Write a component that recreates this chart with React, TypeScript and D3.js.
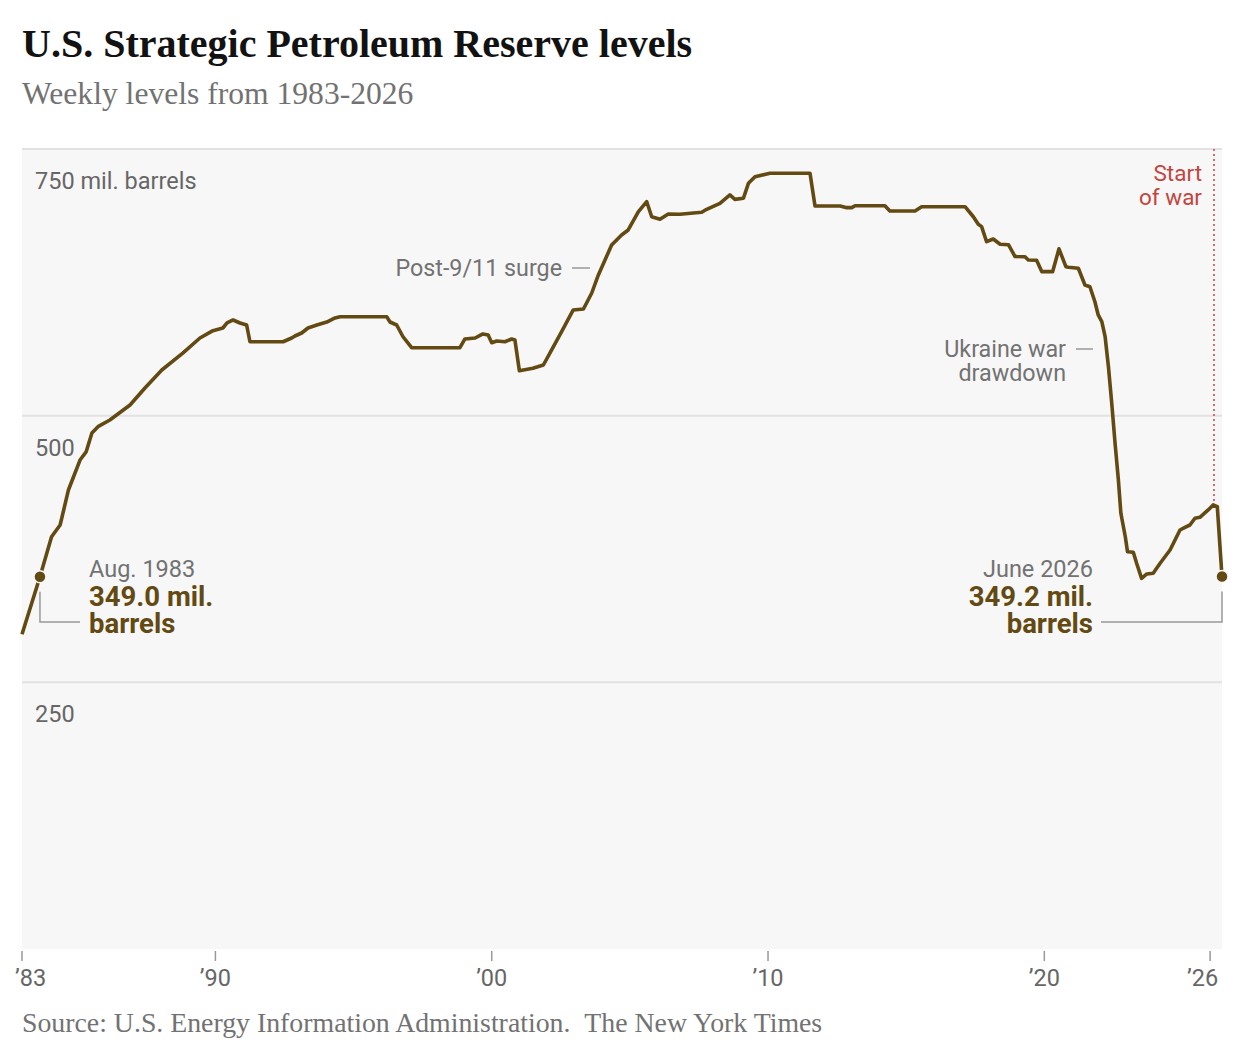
import * as d3 from 'd3';

// weekly SPR level (decimal year, million barrels)
const years = [
  1983.0, 1983.65, 1984.07, 1984.38, 1984.68, 1985.1, 1985.32, 1985.53, 1985.75, 1986.18,
  1986.91, 1987.45, 1988.06, 1988.83, 1989.44, 1989.91, 1990.27, 1990.42, 1990.64, 1990.89,
  1991.13, 1991.25, 1992.45, 1992.76, 1992.88, 1993.12, 1993.35, 1993.67, 1994.03, 1994.33,
  1994.51, 1996.2, 1996.32, 1996.56, 1996.79, 1997.1, 1998.85, 1999.03, 1999.4, 1999.68,
  1999.87, 2000.0, 2000.18, 2000.48, 2000.72, 2000.84, 2001.0, 2001.49, 2001.87, 2002.11,
  2002.53, 2002.95, 2003.32, 2003.62, 2003.86, 2004.34, 2004.7, 2004.94, 2005.31, 2005.61,
  2005.79, 2006.09, 2006.39, 2006.81, 2007.6, 2007.78, 2008.26, 2008.62, 2008.8, 2009.11,
  2009.29, 2009.53, 2010.07, 2011.52, 2011.7, 2012.61, 2012.85, 2013.03, 2013.15, 2014.23,
  2014.41, 2015.32, 2015.56, 2017.13, 2017.43, 2017.61, 2017.73, 2017.91, 2018.15, 2018.4,
  2018.7, 2018.94, 2019.3, 2019.42, 2019.72, 2019.91, 2020.3, 2020.53, 2020.78, 2020.87,
  2021.23, 2021.47, 2021.65, 2021.83, 2021.95, 2022.08, 2022.2, 2022.32, 2022.44, 2022.56,
  2022.68, 2022.77, 2022.93, 2023.01, 2023.22, 2023.34, 2023.52, 2023.71, 2023.94, 2024.19,
  2024.55, 2024.91, 2025.09, 2025.27, 2025.45, 2025.63, 2025.93, 2026.11, 2026.26, 2026.43,
];
const levels = [
  295, 349.0, 386.5, 397.5, 430.3, 458.4, 466, 483.8, 489.7, 495.9,
  510, 525.9, 542.8, 558.8, 572.8, 579.7, 582.2, 586.9, 589.7, 586.9,
  585, 569.3, 569.3, 572.8, 574.7, 577.5, 582.2, 585, 587.8, 591.6,
  592.8, 592.8, 587.8, 585, 574, 563.7, 563.7, 571.9, 572.8, 576.6,
  575.6, 568.4, 570, 569.3, 571.9, 570.9, 542.2, 544.4, 547.5, 558.8,
  578.7, 599.1, 600, 615, 631.9, 660, 669.4, 674.1, 691.2, 700.6,
  686.5, 684.1, 689.1, 688.8, 690.7, 693.5, 699.1, 706.9, 702.8, 703.8,
  717.8, 724, 727.2, 727.2, 696.6, 696.6, 695, 695, 696.8, 696.8,
  691.9, 691.9, 695.9, 695.9, 686.5, 679.4, 677.2, 663.1, 665.6, 660.7,
  660.3, 649.2, 649, 645.9, 645.7, 635, 635, 656.4, 639.7, 639.1,
  638.2, 622.5, 620.9, 606.8, 594.4, 588.1, 574, 545.9, 511.6, 474.1,
  439.7, 408.5, 386.5, 372.5, 371.9, 361.6, 347.5, 351.6, 352.2, 361.6,
  374.1, 392.8, 395.3, 397.5, 403.8, 404.7, 411.6, 416.3, 414.7, 349.2,
];

const yTicks = [250, 500, 750];
const yTickLabels = ['250', '500', '750 mil. barrels'];
const xTicks = [1983, 1990, 2000, 2010, 2020, 2026];
const xTickLabels = ['’83', '’90', '’00', '’10', '’20', '’26'];

const warYear = 2026.14;
const startIndex = 1; // Aug. 1983
const startLabel = ['Aug. 1983', '349.0 mil.', 'barrels'];
const endLabel = ['June 2026', '349.2 mil.', 'barrels'];

const SANS = 'Roboto, "Liberation Sans", sans-serif';
const SERIF = '"Liberation Serif", serif';
const BROWN = '#634912';
const GRAY = '#727272';

export default function App() {
  const left = 22;
  const right = 1222;
  const top = 149;
  const bottom = 949;

  const x = d3.scaleLinear().domain([1983, 2026.43]).range([left, right]);
  const y = d3.scaleLinear().domain([0, 750]).range([bottom, top]);

  const points = years.map((yr, i) => [yr, levels[i]] as [number, number]);
  const line = d3
    .line<[number, number]>()
    .x((d) => x(d[0]))
    .y((d) => y(d[1]));

  // level where the war line meets the series
  const bi = d3.bisectLeft(years, warYear);
  const t = (warYear - years[bi - 1]) / (years[bi] - years[bi - 1]);
  const warLevel = levels[bi - 1] + t * (levels[bi] - levels[bi - 1]);

  const last = years.length - 1;
  const sx = x(years[startIndex]);
  const sy = y(levels[startIndex]);
  const ex = x(years[last]);
  const ey = y(levels[last]);

  return (
    <svg
      width={1237}
      height={1056}
      style={{ position: 'absolute', left: 0, top: 0, background: '#fff' }}
    >
      <text x={22} y={57} fontFamily={SERIF} fontWeight={700} fontSize={40} fill="#121212">
        U.S. Strategic Petroleum Reserve levels
      </text>
      <text x={22} y={104} fontFamily={SERIF} fontSize={31.6} fill={GRAY}>
        Weekly levels from 1983-2026
      </text>

      <rect x={left} y={top} width={right - left} height={bottom - top} fill="#f7f7f7" />
      {yTicks.map((v, i) => (
        <g key={v}>
          <line x1={left} x2={right} y1={y(v)} y2={y(v)} stroke="#e2e2e2" strokeWidth={2} />
          <text x={35} y={y(v) + 40} fontFamily={SANS} fontSize={23.5} fill="#666">
            {yTickLabels[i]}
          </text>
        </g>
      ))}

      {xTicks.map((v, i) => {
        const first = i === 0;
        const lastTick = i === xTicks.length - 1;
        return (
          <g key={v}>
            <line x1={x(v)} x2={x(v)} y1={951} y2={961} stroke="#999" strokeWidth={1.5} />
            <text
              x={first ? x(v) - 7 : lastTick ? x(v) + 8 : x(v)}
              y={986}
              textAnchor={first ? 'start' : lastTick ? 'end' : 'middle'}
              fontFamily={SANS}
              fontSize={23.5}
              fill="#666"
            >
              {xTickLabels[i]}
            </text>
          </g>
        );
      })}

      {/* start of war marker */}
      <line
        x1={x(warYear)}
        x2={x(warYear)}
        y1={top}
        y2={y(warLevel)}
        stroke="#c4443f"
        strokeWidth={1.5}
        strokeDasharray="2,3"
      />
      <text x={1202} y={181} textAnchor="end" fontFamily={SANS} fontSize={22.5} fill="#c4443f">
        Start
      </text>
      <text x={1202} y={205} textAnchor="end" fontFamily={SANS} fontSize={22.5} fill="#c4443f">
        of war
      </text>

      <path d={line(points) ?? ''} fill="none" stroke={BROWN} strokeWidth={3.6} strokeLinejoin="round" />

      {/* annotations */}
      <g fontFamily={SANS} fontSize={23.3} fill={GRAY}>
        <text x={562} y={276} textAnchor="end">Post-9/11 surge</text>
        <line x1={572} x2={590} y1={268} y2={268} stroke="#999" strokeWidth={1.5} />
        <text x={1066} y={357} textAnchor="end">Ukraine war</text>
        <line x1={1076} x2={1093} y1={349} y2={349} stroke="#999" strokeWidth={1.5} />
        <text x={1066} y={381} textAnchor="end">drawdown</text>
      </g>

      {/* first and last values */}
      <path d={`M${sx},${sy + 15}V622H80`} fill="none" stroke="#999" strokeWidth={1.5} />
      <path d={`M1101,622H${ex}V${ey + 15}`} fill="none" stroke="#999" strokeWidth={1.5} />
      <circle cx={sx} cy={sy} r={6} fill={BROWN} stroke="#f7f7f7" strokeWidth={1.5} />
      <circle cx={ex} cy={ey} r={6} fill={BROWN} stroke="#f7f7f7" strokeWidth={1.5} />

      <g fontFamily={SANS}>
        <text x={89} y={577} fontSize={23.5} fill={GRAY}>{startLabel[0]}</text>
        <text x={89} y={606} fontSize={27.5} fontWeight={700} fill={BROWN}>{startLabel[1]}</text>
        <text x={89} y={633} fontSize={27.5} fontWeight={700} fill={BROWN}>{startLabel[2]}</text>
        <text x={1093} y={577} textAnchor="end" fontSize={23.5} fill={GRAY}>{endLabel[0]}</text>
        <text x={1093} y={606} textAnchor="end" fontSize={27.5} fontWeight={700} fill={BROWN}>{endLabel[1]}</text>
        <text x={1093} y={633} textAnchor="end" fontSize={27.5} fontWeight={700} fill={BROWN}>{endLabel[2]}</text>
      </g>

      <text x={22} y={1032} fontFamily={SERIF} fontSize={27.8} fill={GRAY}>
        Source: U.S. Energy Information Administration.{'\u00a0\u00a0'}The New York Times
      </text>
    </svg>
  );
}
